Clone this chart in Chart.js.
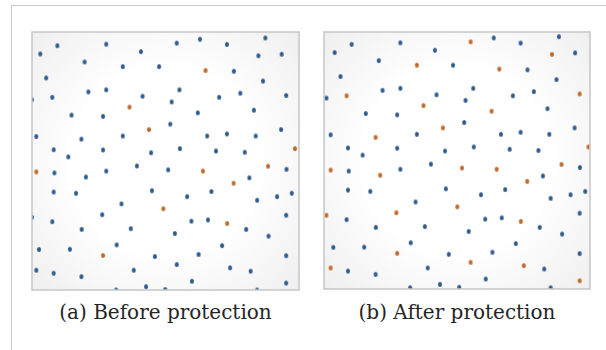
<!DOCTYPE html>
<html>
<head>
<meta charset="utf-8">
<script src="https://cdn.jsdelivr.net/npm/chart.js@4/dist/chart.umd.min.js"></script>
<style>
  html, body { margin: 0; padding: 0; background: #fff; width: 606px; height: 350px; overflow: hidden; }
  body { position: relative; }
  .frame { position: absolute; left: 11px; top: 5px; width: 620px; height: 360px;
           border-top: 1.5px solid #c9c9c9; border-left: 1.5px solid #c9c9c9; }
  canvas { position: absolute; }
  #ca { left: 28px; top: 28px; }
  #cb { left: 320px; top: 28px; }
  .cap { position: absolute; top: 300px; font-family: "DejaVu Serif", serif; font-size: 20px;
         line-height: 24px; color: #252525; white-space: nowrap; text-align: center; }
</style>
</head>
<body>
<div class="frame"></div>
<canvas id="ca" width="275" height="266"></canvas>
<canvas id="cb" width="274" height="265"></canvas>
<div class="cap" id="capA" style="left:29px;width:273px">(a) Before protection</div>
<div class="cap" id="capB" style="left:321px;width:272px">(b) After protection</div>
<script>
// Node positions in the field (0–100 on each axis); the same nodes appear in both panels.
const nodeX = [
  9.5, 3.1, 27.8, 40.8, 54.2, 62.9, 73.0, 87.4, 84.8, 93.5,
  19.7, 34.0, 47.6, 65.0, 75.6, 5.3, 86.5, 21.1, 27.8, 55.2,
  41.4, 70.1, 78.0, 95.2, 7.6, 0.0, 52.3, 36.5, 83.1, 14.8,
  26.6, 62.1, 51.8, 43.8, 93.3, 1.6, 18.5, 34.0, 65.6, 73.0,
  83.8, 8.1, 26.6, 55.4, 68.9, 79.7, 44.6, 98.5, 13.6, 1.6,
  8.4, 27.8, 39.3, 51.0, 64.0, 88.4, 95.3, 20.2, 81.4, 75.5,
  8.1, 16.5, 44.9, 58.1, 67.2, 84.3, 91.8, 97.3, 33.5, 49.2,
  26.3, 95.2, 7.6, 59.7, 65.9, 73.1, 18.6, 37.0, 80.2, 53.5,
  88.6, 31.7, 71.2, 2.6, 14.2, 26.6, 46.0, 62.4, 95.2, 54.2,
  1.6, 8.1, 18.5, 38.1, 74.2, 81.9, 59.9, 95.2, 42.7, 31.5,
  49.9, 84.3, 0.0
];
const nodeY = [
  94.7, 91.5, 95.3, 92.4, 95.7, 97.2, 95.2, 97.7, 90.8, 91.4,
  88.4, 86.6, 86.6, 85.1, 84.8, 82.2, 81.0, 76.8, 77.6, 77.6,
  75.1, 74.7, 76.3, 75.4, 74.7, 73.8, 72.9, 70.9, 69.7, 67.8,
  67.3, 68.7, 64.3, 62.2, 62.2, 59.5, 58.5, 59.7, 59.7, 60.5,
  59.7, 54.4, 54.3, 54.8, 53.9, 53.4, 53.2, 54.8, 51.6, 45.8,
  45.4, 46.1, 48.1, 46.6, 46.1, 48.0, 46.8, 43.8, 43.5, 41.4,
  38.0, 37.5, 38.5, 36.2, 38.2, 34.8, 36.2, 37.5, 33.4, 31.5,
  29.2, 29.0, 26.5, 26.7, 27.2, 25.8, 23.5, 23.8, 23.5, 21.9,
  20.9, 17.5, 17.2, 15.7, 15.8, 13.4, 13.0, 13.8, 13.3, 9.9,
  7.7, 6.5, 5.2, 7.7, 8.6, 7.3, 3.4, 2.7, 1.3, 0.0,
  0.2, 0.0, 28.2
];
// Indices of the nodes marked in orange in each state.
const flaggedBefore = [13, 27, 33, 47, 49, 54, 55, 59, 69, 75, 85];
const flaggedAfter = [4, 8, 11, 13, 23, 24, 27, 31, 33, 36, 47, 49, 53, 54, 55, 57, 59,
                      69, 70, 75, 85, 89, 90, 94, 97, 102];

const BLUE = '#2c5a8e';
const ORANGE = '#c2692a';

// Small elliptical marker sprite, slightly taller than wide.
function dotSprite(color) {
  const c = document.createElement('canvas');
  c.width = 6; c.height = 7;
  const g = c.getContext('2d');
  g.fillStyle = color;
  g.beginPath();
  g.ellipse(3, 3.5, 2.0, 2.5, 0, 0, Math.PI * 2);
  g.fill();
  return c;
}
const blueDot = dotSprite(BLUE);
const orangeDot = dotSprite(ORANGE);

function split(flagged) {
  const set = new Set(flagged);
  const normal = [], marked = [];
  nodeX.forEach((x, i) => {
    (set.has(i) ? marked : normal).push({ x: x, y: nodeY[i] });
  });
  return { normal, marked };
}

// Panel background with a faint grey vignette and a thin grey frame.
const panelFrame = {
  id: 'panelFrame',
  beforeDatasetsDraw(chart) {
    const a = chart.chartArea, ctx = chart.ctx;
    const cx = (a.left + a.right) / 2, cy = (a.top + a.bottom) / 2;
    const r = Math.hypot(a.right - a.left, a.bottom - a.top) / 2;
    const grad = ctx.createRadialGradient(cx, cy, r * 0.5, cx, cy, r);
    grad.addColorStop(0, '#ffffff');
    grad.addColorStop(1, '#efefef');
    ctx.save();
    ctx.fillStyle = grad;
    ctx.fillRect(a.left, a.top, a.right - a.left, a.bottom - a.top);
    ctx.restore();
  },
  afterDraw(chart) {
    const a = chart.chartArea, ctx = chart.ctx;
    ctx.save();
    ctx.strokeStyle = '#c6c6c6';
    ctx.lineWidth = 1.5;
    ctx.strokeRect(a.left, a.top, a.right - a.left, a.bottom - a.top);
    ctx.restore();
  }
};

function makePanel(id, flagged, xRange, yRange) {
  const parts = split(flagged);
  return new Chart(document.getElementById(id), {
    type: 'scatter',
    data: {
      datasets: [
        { label: 'nodes', data: parts.normal, pointStyle: blueDot, pointRadius: 3,
          backgroundColor: BLUE, borderWidth: 0, clip: 0 },
        { label: 'marked nodes', data: parts.marked, pointStyle: orangeDot, pointRadius: 3,
          backgroundColor: ORANGE, borderWidth: 0, clip: 0 }
      ]
    },
    options: {
      responsive: false,
      animation: false,
      events: [],
      layout: { padding: 1 },
      plugins: { legend: { display: false }, tooltip: { enabled: false } },
      scales: {
        x: { type: 'linear', min: xRange[0], max: xRange[1], display: false },
        y: { type: 'linear', min: yRange[0], max: yRange[1], display: false }
      }
    },
    plugins: [panelFrame]
  });
}

makePanel('ca', flaggedBefore, [0, 100], [0, 100]);
makePanel('cb', flaggedAfter, [-0.9, 99.1], [-0.5, 99.5]);
</script>
</body>
</html>
